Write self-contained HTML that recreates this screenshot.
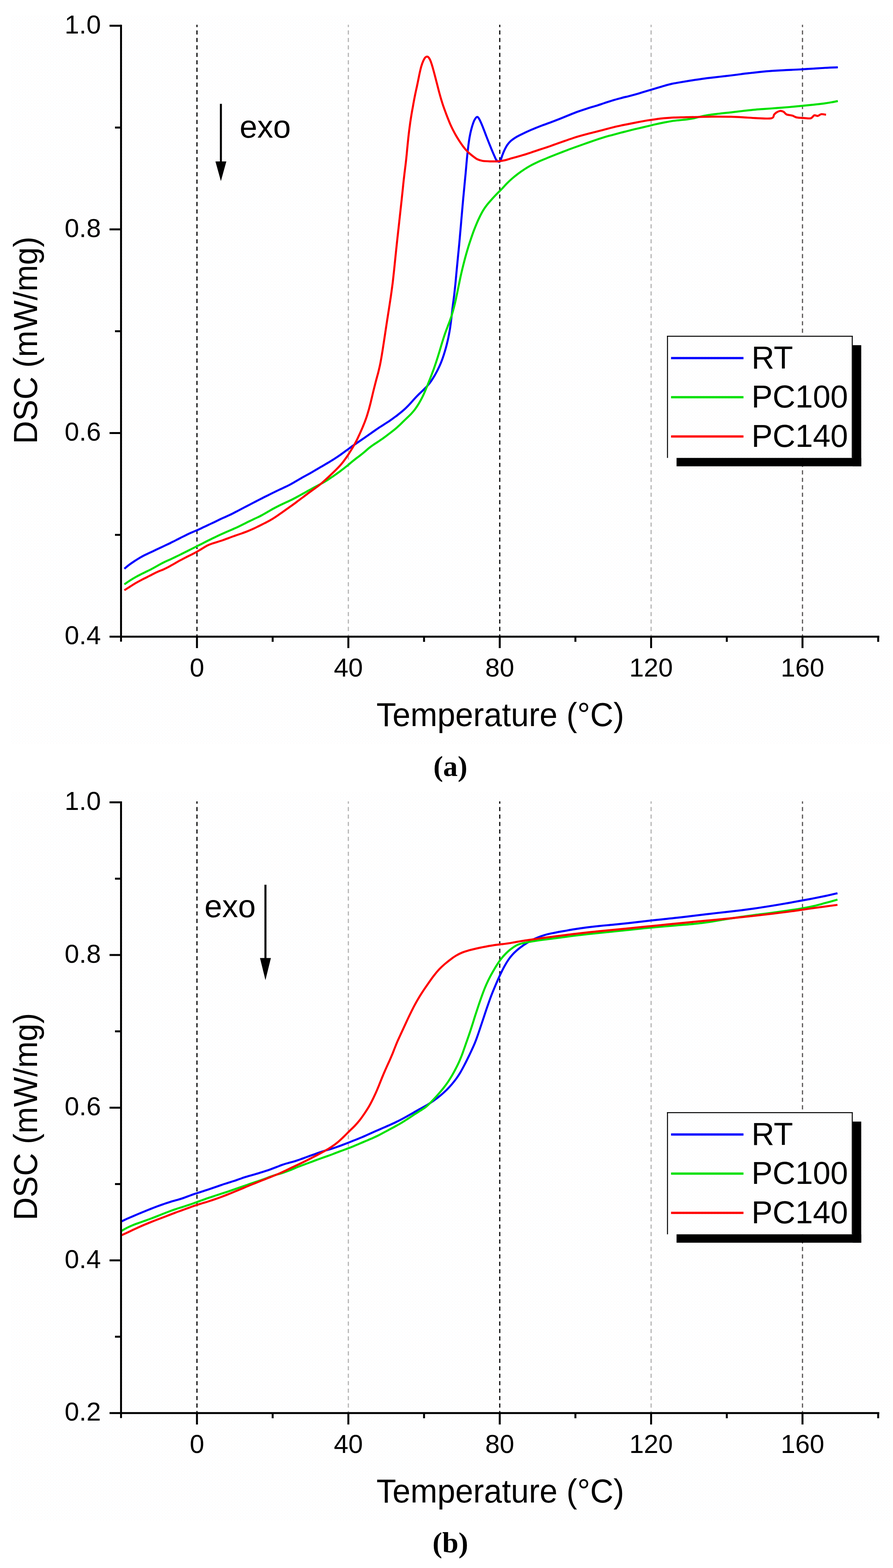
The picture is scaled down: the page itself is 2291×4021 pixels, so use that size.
<!DOCTYPE html><html><head><meta charset="utf-8"><style>html,body{margin:0;padding:0;background:#fff}svg{display:block}.tk{font-family:"Liberation Sans",Arial,sans-serif;font-size:67px;fill:#000}.tt{font-family:"Liberation Sans",Arial,sans-serif;font-size:85px;fill:#000}.lg{font-family:"Liberation Sans",Arial,sans-serif;font-size:81px;fill:#000}.cp{font-family:"Liberation Serif","Times New Roman",serif;font-size:75px;font-weight:bold;fill:#000}</style></head><body>
<svg width="2291" height="4021" viewBox="0 0 2291 4021">
<defs><pattern id="dots" width="8" height="8" patternUnits="userSpaceOnUse"><rect width="8" height="8" fill="#fff"/><rect x="1" y="1" width="1" height="1" fill="#f0e4e4"/><rect x="5" y="5" width="1" height="1" fill="#e2eef7"/></pattern></defs>
<rect width="2291" height="4021" fill="#fff"/>
<rect x="27" y="40" width="2258" height="1869" fill="url(#dots)"/>
<line x1="505.3" y1="63.5" x2="505.3" y2="1632.7" stroke="#000" stroke-width="3" stroke-dasharray="10.6 8.52" stroke-dashoffset="4.6"/>
<line x1="893.7" y1="63.5" x2="893.7" y2="1632.7" stroke="#b4b4b4" stroke-width="3" stroke-dasharray="10.6 8.52" stroke-dashoffset="4.6"/>
<line x1="1282.1" y1="63.5" x2="1282.1" y2="1632.7" stroke="#000" stroke-width="3" stroke-dasharray="10.6 8.52" stroke-dashoffset="4.6"/>
<line x1="1670.4" y1="63.5" x2="1670.4" y2="1632.7" stroke="#b4b4b4" stroke-width="3" stroke-dasharray="10.6 8.52" stroke-dashoffset="4.6"/>
<line x1="2058.8" y1="63.5" x2="2058.8" y2="1632.7" stroke="#575353" stroke-width="3" stroke-dasharray="10.6 8.52" stroke-dashoffset="4.6"/>
<path d="M319.1 1458.4C321.4 1456.5 328.3 1450.8 333.1 1447.2C337.9 1443.7 342.8 1440.5 347.8 1437.2C352.8 1434 357.9 1430.8 362.9 1428C367.9 1425.2 373 1422.8 378 1420.3C383 1417.8 388.1 1415.7 393.1 1413.3C398.1 1410.9 403.2 1408.5 408.2 1406.1C413.2 1403.7 418.3 1401.4 423.3 1399C428.3 1396.6 433.4 1394.3 438.4 1391.8C443.4 1389.3 448.5 1386.8 453.5 1384.2C458.6 1381.7 463.6 1379 468.7 1376.5C473.7 1374 478.8 1371.4 483.8 1369.1C488.8 1366.8 493.9 1364.7 498.5 1362.7C503.1 1360.7 507.3 1359.1 511.4 1357.2C515.4 1355.4 518.6 1353.6 522.6 1351.7C526.7 1349.8 530.9 1347.9 535.5 1345.7C540.1 1343.5 545.2 1341.2 550.2 1338.8C555.2 1336.4 560.3 1333.8 565.3 1331.4C570.3 1329 575.4 1326.9 580.4 1324.6C585.5 1322.3 590.5 1320.1 595.6 1317.6C600.6 1315.1 605.7 1312.3 610.7 1309.7C615.7 1307.1 620.8 1304.4 625.8 1301.8C630.8 1299.2 635.9 1296.6 640.9 1294C645.9 1291.4 651 1288.7 656 1286.1C661 1283.5 666.1 1280.9 671.1 1278.4C676.1 1275.8 681.2 1273.3 686.2 1270.8C691.2 1268.3 696.3 1265.7 701.3 1263.2C706.3 1260.8 711.3 1258.4 716.3 1256C721.2 1253.7 726.1 1251.6 731 1249.2C736 1246.8 741 1244.4 746 1241.7C751.1 1238.9 756.4 1235.7 761.6 1232.7C766.8 1229.7 772.1 1226.6 777.4 1223.6C782.7 1220.6 787.9 1217.9 793.2 1214.9C798.5 1211.9 803.7 1208.9 809 1205.8C814.3 1202.8 819.5 1199.7 824.8 1196.6C830.1 1193.5 835.3 1190.5 840.6 1187.3C845.9 1184.1 851.1 1181 856.4 1177.6C861.7 1174.2 866.9 1170.8 872.2 1167.1C877.5 1163.5 882.7 1159.5 888 1155.7C893.3 1151.9 898.6 1147.9 903.8 1144.2C909 1140.5 914.3 1136.9 919.3 1133.5C924.4 1130 929.3 1126.6 934.1 1123.3C938.9 1120 943.5 1116.8 948.1 1113.6C952.7 1110.4 957.2 1107.1 961.8 1104C966.4 1100.8 971.1 1097.6 975.5 1094.7C980 1091.8 984 1089.4 988.5 1086.4C993 1083.5 997.4 1080.7 1002.6 1077.1C1007.7 1073.5 1014.1 1068.8 1019.4 1064.8C1024.6 1060.7 1029.9 1056.5 1034.2 1052.8C1038.5 1049.1 1041.6 1046 1045 1042.7C1048.4 1039.3 1051.2 1036.2 1054.4 1032.7C1057.6 1029.2 1060.7 1025.4 1064.2 1021.7C1067.7 1017.9 1071.5 1014 1075.2 1010.3C1078.9 1006.7 1082.8 1003.3 1086.3 999.8C1089.9 996.3 1093.3 993 1096.6 989.2C1099.9 985.4 1103.3 981.2 1106.3 976.9C1109.3 972.6 1112.2 967.9 1114.8 963.4C1117.5 958.9 1119.8 954.5 1122.2 949.9C1124.5 945.3 1126.8 940.7 1128.9 935.8C1131.1 930.9 1133.1 925.7 1135.1 920.2C1137 914.8 1138.9 909 1140.6 903.2C1142.4 897.4 1144 891.9 1145.6 885.6C1147.2 879.3 1148.8 873 1150.3 865.6C1151.8 858.3 1153.4 849.9 1154.7 841.3C1156 832.7 1157.1 823.3 1158.2 814.1C1159.3 804.9 1160.3 795.4 1161.4 786C1162.5 776.7 1163.9 767.5 1165.1 757.9C1166.2 748.3 1167.3 738.6 1168.3 728.6C1169.3 718.7 1170.1 708.4 1171.1 698.3C1172 688.2 1173 678.1 1174 668C1175 657.9 1176 647.8 1177 637.7C1178 627.6 1178.9 617.7 1179.8 607.3C1180.8 597 1181.6 586.3 1182.6 575.5C1183.5 564.6 1184.5 553 1185.5 542.1C1186.4 531.3 1187.3 521.1 1188.3 510.3C1189.3 499.5 1190.3 488.8 1191.4 477.6C1192.4 466.4 1193.7 453.7 1194.7 443C1195.6 432.3 1196.5 422.3 1197.3 413.4C1198.1 404.6 1198.8 397.3 1199.7 389.9C1200.5 382.5 1201.3 375.5 1202.1 369.3C1202.9 363.1 1203.8 357.6 1204.6 352.8C1205.4 348 1206.2 344.3 1207 340.4C1207.9 336.5 1208.7 333.1 1209.7 329.5C1210.7 325.8 1211.7 322.2 1213 318.5C1214.3 314.8 1215.6 310.6 1217.4 307.5C1219.2 304.4 1222 300.2 1224 299.8C1226 299.4 1227.5 302.1 1229.5 305.3C1231.5 308.5 1233.8 314.1 1235.8 318.8C1237.8 323.4 1239.6 328.2 1241.5 333C1243.4 337.8 1245.2 342.8 1247 347.6C1248.8 352.3 1250.7 356.9 1252.5 361.6C1254.3 366.2 1256.2 370.8 1258 375.3C1259.8 379.9 1261.7 384.6 1263.5 388.8C1265.3 393.1 1267.1 397.2 1268.8 400.8C1270.4 404.4 1271.5 408.1 1273.5 410.5C1275.5 412.9 1278.7 415 1280.5 415C1282.3 415 1283.1 413.4 1284.5 410.5C1285.9 407.6 1287.2 402.1 1288.9 397.7C1290.6 393.2 1292.7 388 1294.8 383.6C1297 379.3 1299.2 375 1301.8 371.3C1304.4 367.6 1307.1 364.5 1310.5 361.4C1313.9 358.3 1317.6 355.7 1322.5 352.7C1327.3 349.8 1333.1 346.9 1339.8 343.7C1346.4 340.4 1354.5 336.6 1362.4 333.2C1370.3 329.8 1378.8 326.3 1387.1 323.1C1395.4 319.9 1403.8 317.1 1412.2 314C1420.6 310.8 1429.3 307.5 1437.5 304.3C1445.7 301 1453.8 297.6 1461.5 294.5C1469.2 291.4 1476.6 288.5 1484 285.8C1491.4 283.1 1498.6 280.7 1505.9 278.4C1513.2 276 1520.6 274 1527.9 271.8C1535.2 269.5 1542.6 267 1549.9 264.6C1557.2 262.2 1564.6 259.6 1571.9 257.4C1579.2 255.2 1586.5 253.3 1593.8 251.4C1601.1 249.5 1608.5 247.8 1615.8 245.9C1623.1 244 1630.5 242 1637.8 239.9C1645.1 237.7 1652.5 235.5 1659.8 233.3C1667.1 231.1 1674.5 228.9 1681.8 226.7C1689.1 224.5 1696.7 222.1 1703.7 220.2C1710.7 218.2 1717.1 216.4 1723.8 214.9C1730.5 213.5 1736.2 212.5 1744 211.2C1751.7 209.9 1760.8 208.4 1770.2 206.9C1779.6 205.4 1790.3 203.7 1800.4 202.3C1810.5 200.9 1820.6 199.7 1830.7 198.6C1840.8 197.4 1850.8 196.3 1860.9 195.2C1871 194 1881 192.8 1891.1 191.5C1901.2 190.2 1911.3 188.8 1921.3 187.7C1931.3 186.5 1941 185.3 1951.1 184.3C1961.3 183.3 1971.1 182.5 1982.1 181.7C1993.1 181 2005.3 180.3 2017.2 179.7C2029.2 179.1 2042.1 178.6 2053.5 178C2065 177.4 2075.4 176.7 2086 176C2096.6 175.4 2106.4 174.5 2117 174C2127.6 173.4 2144.1 172.9 2149.5 172.7" fill="none" stroke="#0000ff" stroke-width="5.2" stroke-linejoin="round" stroke-linecap="butt"/>
<path d="M319.1 1498.5C321.4 1496.9 328.3 1492 333.1 1488.9C337.9 1485.8 342.8 1482.8 347.8 1480C352.8 1477.2 357.9 1474.6 362.9 1472C367.9 1469.5 373 1467.2 378 1464.7C383 1462.2 388.1 1459.7 393.1 1456.9C398.1 1454.2 403.2 1451.2 408.2 1448.5C413.2 1445.7 418.3 1443.1 423.3 1440.7C428.3 1438.3 433.4 1436.2 438.4 1433.9C443.4 1431.6 448.5 1429.2 453.5 1426.7C458.6 1424.3 463.6 1421.7 468.7 1419.2C473.7 1416.7 478.8 1414.1 483.8 1411.6C488.8 1409.1 493.6 1406.7 498.9 1404C504.2 1401.4 509.7 1398.6 515.5 1395.7C521.3 1392.7 527.8 1389.3 533.6 1386.4C539.4 1383.6 544.9 1380.8 550.2 1378.3C555.5 1375.7 560.3 1373.4 565.3 1371.1C570.3 1368.8 575.4 1366.5 580.4 1364.3C585.5 1362.1 590.5 1360 595.6 1357.8C600.6 1355.6 605.7 1353.4 610.7 1351.1C615.7 1348.7 620.8 1346.2 625.8 1343.7C630.8 1341.2 635.9 1338.6 640.9 1336.2C645.9 1333.7 651 1331.4 656 1329C661 1326.6 666.1 1324.3 671.1 1321.6C676.1 1319 681.2 1316 686.2 1313.1C691.2 1310.2 696.3 1307.1 701.3 1304.4C706.3 1301.7 711.3 1299.1 716.3 1296.6C721.2 1294.2 726.1 1292 731 1289.7C736 1287.4 741 1285.2 746 1282.7C751.1 1280.2 756.4 1277.4 761.6 1274.6C766.8 1271.8 772.1 1268.8 777.4 1265.9C782.7 1263 787.9 1259.9 793.2 1257C798.5 1254.1 803.7 1251.1 809 1248.3C814.3 1245.5 819.5 1242.9 824.8 1240C830.1 1237.1 835.3 1234 840.6 1230.7C845.9 1227.4 851.1 1223.7 856.4 1220.1C861.7 1216.4 867 1212.7 872.2 1208.9C877.4 1205 882.8 1200.8 887.8 1196.8C892.8 1192.9 897.6 1188.6 902 1185C906.4 1181.4 910.2 1178.4 914 1175.4C917.8 1172.4 921.3 1170 925 1167.1C928.6 1164.3 932.2 1161.3 935.9 1158.2C939.7 1155.1 943.3 1151.6 947.4 1148.4C951.5 1145.2 956 1142.1 960.4 1139C964.9 1135.9 969.7 1133 974.2 1129.9C978.8 1126.8 983.2 1123.7 987.8 1120.3C992.4 1116.9 997.2 1113.3 1001.7 1109.8C1006.3 1106.3 1011 1102.6 1015 1099.2C1019 1095.8 1022.4 1092.7 1025.8 1089.6C1029.2 1086.4 1032.2 1083.3 1035.4 1080.2C1038.6 1077.1 1041.8 1073.9 1045 1070.8C1048.2 1067.7 1051.2 1065.1 1054.4 1061.7C1057.6 1058.3 1060.8 1054.8 1064.2 1050.3C1067.6 1045.8 1071.3 1040.2 1074.6 1034.7C1077.9 1029.2 1081.2 1023.1 1084 1017.4C1086.8 1011.7 1089.2 1006.1 1091.6 1000.4C1094.1 994.7 1096.3 989 1098.7 983.1C1101 977.2 1103.4 971.3 1105.7 965.2C1108.1 959 1110.4 952.9 1112.8 946.4C1115.1 939.8 1117.5 933 1119.8 925.8C1122.2 918.6 1124.5 910.9 1126.9 903.2C1129.2 895.6 1131.6 887.4 1133.9 879.8C1136.2 872.2 1138.6 864.6 1140.9 857.8C1143.3 850.9 1145.6 844.9 1148 838.7C1150.3 832.4 1152.7 826.7 1154.9 820.4C1157.1 814.1 1159.2 807.8 1161.2 800.9C1163.2 793.9 1165.1 786.6 1167 778.7C1168.8 770.9 1170.7 762.1 1172.4 753.7C1174.2 745.4 1175.9 736.9 1177.6 728.6C1179.3 720.4 1180.9 712.5 1182.7 704.4C1184.5 696.3 1186.5 688.1 1188.5 680.1C1190.5 672.2 1192.5 664.3 1194.6 656.8C1196.6 649.2 1198.7 642.2 1200.9 634.9C1203.1 627.7 1205.5 620.5 1207.9 613.4C1210.3 606.3 1212.7 599.2 1215.2 592.5C1217.7 585.8 1220.2 579.6 1222.8 573.4C1225.4 567.2 1228.2 561.2 1231 555.5C1233.8 549.8 1236.7 544.2 1239.8 539.1C1242.9 534 1246.2 529.5 1249.8 524.9C1253.4 520.3 1257.5 515.8 1261.3 511.5C1265.1 507.2 1269.2 502.9 1272.8 499.1C1276.4 495.3 1280 491.9 1283.1 488.8C1286.2 485.7 1288.5 483.3 1291.3 480.4C1294.1 477.4 1296.1 474.7 1299.7 471.1C1303.3 467.5 1308 462.9 1313 458.6C1317.9 454.3 1323.9 449.5 1329.4 445.4C1334.9 441.3 1340.4 437.5 1345.9 433.9C1351.4 430.3 1356.9 427 1362.4 424C1367.9 421 1373.4 418.4 1378.9 415.8C1384.4 413.2 1389.9 410.9 1395.4 408.6C1400.9 406.3 1406.4 404 1411.9 401.8C1417.4 399.6 1422.8 397.5 1428.3 395.4C1433.8 393.3 1439 391.2 1444.8 389C1450.6 386.8 1456.3 384.5 1462.8 382.1C1469.3 379.7 1476.6 377.1 1483.8 374.6C1491 372 1498.6 369.4 1505.9 366.8C1513.3 364.2 1520.6 361.6 1527.9 359.1C1535.2 356.6 1542.6 354.2 1549.9 352C1557.2 349.8 1564.6 347.9 1571.9 345.9C1579.2 343.9 1586.5 342 1593.8 340.1C1601.1 338.2 1608.5 336.2 1615.8 334.4C1623.1 332.6 1630.5 330.9 1637.8 329.2C1645.1 327.5 1652.5 325.7 1659.8 324C1667.1 322.3 1674.5 320.4 1681.8 318.8C1689.1 317.1 1696.7 315.5 1703.7 314.1C1710.7 312.7 1717.4 311.5 1723.8 310.5C1730.2 309.5 1735.8 309 1742.1 308.3C1748.4 307.6 1755.2 307.2 1761.5 306.4C1767.9 305.6 1774.3 304.6 1780.1 303.4C1785.9 302.2 1790.2 300.6 1796.3 299.3C1802.4 297.9 1808.6 296.4 1816.7 295.1C1824.8 293.8 1835.1 292.7 1845 291.5C1854.9 290.3 1865.8 289.3 1876 288.1C1886.2 286.9 1896.8 285.6 1906.2 284.5C1915.6 283.4 1923.6 282.4 1932.2 281.6C1940.9 280.8 1948 280.4 1957.9 279.6C1967.8 278.9 1980.3 278.1 1991.6 277.2C2002.8 276.4 2014.9 275.4 2025.6 274.5C2036.3 273.5 2045.7 272.6 2055.8 271.6C2065.9 270.6 2076.6 269.6 2086 268.6C2095.4 267.6 2104.7 266.6 2112.4 265.6C2120.1 264.6 2125.9 263.6 2132.1 262.5C2138.3 261.4 2146.6 259.7 2149.5 259.1" fill="none" stroke="#00e000" stroke-width="5.2" stroke-linejoin="round" stroke-linecap="butt"/>
<path d="M319.1 1513.6C321.4 1512.1 328.3 1507.7 333.1 1504.7C337.9 1501.7 342.8 1498.4 347.8 1495.5C352.8 1492.5 357.9 1489.8 362.9 1487.2C367.9 1484.5 373 1482.2 378 1479.6C383 1477 388.3 1474.2 393.1 1471.8C397.9 1469.4 402.7 1467.1 407.1 1465.2C411.4 1463.3 415.1 1462.2 419.2 1460.3C423.3 1458.5 427.2 1456.7 431.6 1454.3C436.1 1451.9 441.1 1448.9 446 1446.2C450.9 1443.4 456.1 1440.4 461.1 1437.6C466.1 1434.9 471.2 1432.3 476.2 1429.7C481.2 1427.1 486.3 1424.8 491.3 1422.2C496.3 1419.6 501.6 1416.9 506.4 1414.2C511.2 1411.5 516.1 1408.4 520.4 1405.8C524.7 1403.3 528.2 1400.8 532.1 1398.9C536 1396.9 539.5 1395.6 543.8 1394.1C548.1 1392.6 553 1391.3 557.8 1389.8C562.6 1388.2 567.9 1386.6 572.9 1384.9C577.9 1383.1 583 1381 588 1379.2C593 1377.3 598.1 1375.5 603.1 1373.7C608.1 1371.9 613.2 1370.4 618.2 1368.6C623.2 1366.8 628.3 1365 633.3 1363C638.3 1361 643.4 1358.8 648.4 1356.6C653.4 1354.3 658.5 1351.8 663.5 1349.4C668.6 1346.9 673.6 1344.4 678.7 1341.8C683.7 1339.2 688.8 1336.7 693.8 1333.8C698.8 1331 703.6 1328 708.9 1324.4C714.2 1320.9 719.8 1316.8 725.7 1312.6C731.6 1308.5 738.3 1303.7 744.3 1299.4C750.3 1295.1 756.1 1290.9 761.6 1286.8C767.1 1282.8 772.1 1278.9 777.4 1275C782.7 1271 787.9 1267 793.2 1263.1C798.5 1259.2 803.7 1255.6 809 1251.7C814.3 1247.7 819.5 1243.8 824.8 1239.4C830.1 1235 835.3 1230.1 840.6 1225.2C845.9 1220.3 851.5 1215 856.5 1210.2C861.5 1205.3 866.6 1200.3 870.7 1195.8C874.8 1191.4 877.9 1187.5 881 1183.6C884 1179.7 886.4 1176.3 889 1172.6C891.5 1168.9 893.9 1165.3 896.2 1161.6C898.6 1158 900.8 1154.3 903 1150.7C905.2 1147 907.4 1143.4 909.4 1139.7C911.5 1136 913.5 1132.4 915.3 1128.7C917.2 1125 918.8 1121.4 920.5 1117.7C922.2 1114 923.9 1110.4 925.5 1106.7C927.1 1103 928.7 1099.4 930.3 1095.7C931.8 1092 933.4 1088.4 934.8 1084.7C936.2 1081 937.6 1077.5 938.9 1073.7C940.3 1069.9 941.5 1066 942.8 1061.8C944.1 1057.5 945.5 1052.7 946.8 1048.2C948 1043.6 949.2 1038.9 950.4 1034.5C951.5 1030.1 952.4 1025.9 953.5 1021.5C954.6 1017.1 955.5 1012.9 956.7 1008C957.9 1003 959.2 997.7 960.7 991.9C962.2 986.1 963.8 979.4 965.5 973.2C967.1 967 968.8 961.5 970.5 954.8C972.2 948 973.8 941.5 975.6 932.6C977.3 923.8 979.2 912.7 981 901.7C982.8 890.7 984.6 878.2 986.4 866.5C988.2 854.8 989.9 843 991.7 831.3C993.5 819.6 995.4 807.8 997.2 796.1C999 784.3 1000.9 772.6 1002.6 760.8C1004.3 749.1 1005.9 737.3 1007.4 725.6C1008.8 713.9 1010 702.2 1011.3 690.4C1012.5 678.6 1013.7 666.4 1014.9 655C1016.1 643.5 1017.4 632 1018.4 621.8C1019.5 611.5 1020.5 602.5 1021.5 593.6C1022.5 584.7 1023.4 576.7 1024.3 568.2C1025.2 559.7 1026.2 551.3 1027.1 542.8C1028 534.3 1029 525.8 1029.9 517.3C1030.8 508.8 1031.7 500.4 1032.6 491.9C1033.5 483.4 1034.3 474.7 1035.2 466.5C1036.1 458.2 1037.1 449.9 1038 442.3C1038.9 434.7 1039.8 428.2 1040.7 420.6C1041.6 413 1042.4 405.2 1043.3 396.4C1044.2 387.5 1045.1 376.9 1046.1 367.5C1047.1 358.1 1048 348.9 1049.1 340.2C1050.1 331.5 1051.2 323.4 1052.3 315.4C1053.4 307.4 1054.7 299.5 1055.9 292.2C1057.1 285 1058.3 278.5 1059.5 272.2C1060.6 265.9 1061.6 260.2 1062.7 254.6C1063.8 248.9 1064.8 243.9 1065.9 238.5C1067 233.1 1068.3 227.8 1069.5 222.1C1070.7 216.4 1072 210.1 1073.2 204.2C1074.4 198.2 1075.6 192 1076.9 186.2C1078.2 180.5 1079.4 174.8 1080.9 169.9C1082.4 164.9 1084 160.3 1085.7 156.6C1087.4 152.8 1089.2 149.1 1091.1 147.3C1093 145.5 1095.3 144.7 1097.3 145.5C1099.2 146.3 1101.1 149.1 1102.8 152.3C1104.5 155.5 1106 160.1 1107.5 164.6C1109 169.1 1110.3 174.1 1111.8 179.4C1113.3 184.8 1114.8 190.6 1116.4 196.7C1118 202.8 1119.7 209.5 1121.4 215.9C1123 222.3 1124.7 228.9 1126.3 235.1C1128 241.3 1129.6 247.2 1131.3 253C1133 258.8 1134.7 264.2 1136.5 269.7C1138.4 275.2 1140.4 280.6 1142.4 286.1C1144.4 291.6 1146.5 297.1 1148.6 302.5C1150.7 307.8 1152.8 313.1 1155 318.2C1157.3 323.4 1159.7 328.5 1162.2 333.4C1164.7 338.3 1167.2 343 1169.9 347.6C1172.6 352.2 1175.4 356.8 1178.2 361.2C1181.1 365.6 1184.1 370.1 1186.9 373.9C1189.7 377.7 1192.3 381 1195 384.1C1197.7 387.1 1200.1 389.5 1203.1 392.2C1206.1 394.9 1209.5 397.7 1213 400.4C1216.5 403 1219.9 406 1224 408.1C1228.1 410.1 1232.2 411.5 1237.7 412.5C1243.2 413.4 1250.3 413.6 1256.9 413.8C1263.5 414 1271.2 414 1277.5 413.6C1283.8 413.1 1289.4 412.2 1294.6 411.1C1299.8 410 1303.8 408.4 1308.9 406.9C1314 405.5 1319.2 404.1 1325.1 402.4C1331 400.8 1338.1 398.9 1344.3 397.1C1350.5 395.2 1356.6 393 1362.4 391.1C1368.2 389.1 1373.4 387.3 1378.9 385.5C1384.4 383.7 1389.9 381.9 1395.4 380.1C1400.9 378.3 1406.6 376.4 1411.9 374.6C1417.2 372.7 1422 370.9 1427.1 369.1C1432.2 367.3 1436.8 365.7 1442.6 363.6C1448.4 361.6 1455.1 359.2 1462 356.9C1468.9 354.6 1476.7 351.9 1484 349.8C1491.3 347.6 1498.6 345.6 1505.9 343.7C1513.2 341.8 1520.6 340.1 1527.9 338.2C1535.2 336.3 1542.6 334.4 1549.9 332.4C1557.2 330.5 1564.6 328.5 1571.9 326.7C1579.2 324.9 1586.5 323.4 1593.8 321.8C1601.1 320.2 1608.5 318.9 1615.8 317.4C1623.1 315.9 1630.5 314.4 1637.8 313C1645.1 311.6 1652.5 310.2 1659.8 309C1667.1 307.8 1674.5 306.7 1681.8 305.8C1689.1 304.8 1695.9 303.9 1703.7 303.2C1711.6 302.5 1719.5 301.8 1728.8 301.4C1738.1 301 1749.5 300.9 1759.7 300.6C1769.8 300.4 1778.3 300.3 1789.6 300C1800.8 299.8 1813 299.3 1827.2 299.2C1841.5 299.1 1861.4 299.1 1875.2 299.4C1889 299.7 1899.3 300.5 1910 301.1C1920.7 301.7 1928 302.4 1939.4 302.8C1950.9 303.2 1970.9 305 1978.7 303.4C1986.5 301.8 1984 296 1986.3 293.5C1988.6 291 1989.8 289.8 1992.3 288.3C1994.8 286.8 1998.4 284.8 2001.4 284.5C2004.4 284.2 2007.6 285.2 2010.4 286.7C2013.2 288.2 2014.2 291.9 2018 293.5C2021.8 295.1 2028.8 295.3 2033.1 296.6C2037.4 297.9 2038.9 300.1 2043.7 301.1C2048.5 302.1 2055.8 302.2 2061.8 302.6C2067.8 303 2075.4 304.5 2079.9 303.4C2084.4 302.3 2086 296.8 2089 295.8C2092 294.8 2095.1 297.8 2098.1 297.3C2101.1 296.8 2103.6 293.3 2107.1 292.8C2110.6 292.3 2117.2 294.1 2119.2 294.3" fill="none" stroke="#ff0000" stroke-width="5.2" stroke-linejoin="round" stroke-linecap="butt"/>
<rect x="308" y="63.5" width="5" height="1582" fill="#000"/>
<rect x="308" y="1630.2" width="1947.8" height="5" fill="#000"/>
<rect x="281" y="63.5" width="30" height="5" fill="#000"/>
<rect x="281" y="585.7" width="30" height="5" fill="#000"/>
<rect x="281" y="1108" width="30" height="5" fill="#000"/>
<rect x="281" y="1630.2" width="30" height="5" fill="#000"/>
<rect x="295" y="324.6" width="16" height="5" fill="#000"/>
<rect x="295" y="846.9" width="16" height="5" fill="#000"/>
<rect x="295" y="1369.1" width="16" height="5" fill="#000"/>
<rect x="502.8" y="1632.7" width="5" height="29.3" fill="#000"/>
<rect x="891.2" y="1632.7" width="5" height="29.3" fill="#000"/>
<rect x="1279.6" y="1632.7" width="5" height="29.3" fill="#000"/>
<rect x="1667.9" y="1632.7" width="5" height="29.3" fill="#000"/>
<rect x="2056.3" y="1632.7" width="5" height="29.3" fill="#000"/>
<rect x="697" y="1632.7" width="5" height="13.3" fill="#000"/>
<rect x="1085.4" y="1632.7" width="5" height="13.3" fill="#000"/>
<rect x="1473.7" y="1632.7" width="5" height="13.3" fill="#000"/>
<rect x="1862.1" y="1632.7" width="5" height="13.3" fill="#000"/>
<rect x="2250.5" y="1632.7" width="5" height="13.3" fill="#000"/>
<text x="259" y="85.6" text-anchor="end" class="tk">1.0</text>
<text x="259" y="607.8" text-anchor="end" class="tk">0.8</text>
<text x="259" y="1130.1" text-anchor="end" class="tk">0.6</text>
<text x="259" y="1652.3" text-anchor="end" class="tk">0.4</text>
<text x="505.3" y="1735" text-anchor="middle" class="tk">0</text>
<text x="893.7" y="1735" text-anchor="middle" class="tk">40</text>
<text x="1282.1" y="1735" text-anchor="middle" class="tk">80</text>
<text x="1670.4" y="1735" text-anchor="middle" class="tk">120</text>
<text x="2058.8" y="1735" text-anchor="middle" class="tk">160</text>
<text transform="translate(1283.5 1862) scale(0.974 1)" text-anchor="middle" class="tt">Temperature (°C)</text>
<text transform="translate(95.3 872.6) rotate(-90) scale(0.963 1)" text-anchor="middle" class="tt">DSC (mW/mg)</text>
<rect x="564.1" y="266.3" width="5.2" height="149.7" fill="#000"/>
<path d="M552.7 414L580.7 414L566.7 464.6Z" fill="#000"/>
<text x="614.8" y="352.7" class="tt" style="font-size:81.5px">exo</text>
<rect x="1712" y="862" width="474" height="312.3" fill="url(#dots)"/>
<rect x="1712" y="862" width="474" height="312.3" fill="#fff" fill-opacity="0"/>
<rect x="1711.2" y="861" width="476.4" height="2.5" fill="#000"/>
<rect x="1711.2" y="861" width="2.5" height="313.3" fill="#000"/>
<rect x="2185.2" y="861" width="2.5" height="313.3" fill="#000"/>
<rect x="2187.6" y="885.2" width="21.9" height="310.6" fill="#000"/>
<rect x="1735.7" y="1174.3" width="473.8" height="21.5" fill="#000"/>
<rect x="1721.6" y="915.4" width="185.8" height="5.8" fill="#0000ff"/>
<text x="1928" y="945" class="lg">RT</text>
<rect x="1721.6" y="1015.7" width="185.8" height="5.8" fill="#00e000"/>
<text x="1928" y="1045.2" class="lg">PC100</text>
<rect x="1721.6" y="1116.4" width="185.8" height="5.8" fill="#ff0000"/>
<text x="1928" y="1146.3" class="lg">PC140</text>
<rect x="27" y="2031" width="2258" height="1869" fill="url(#dots)"/>
<line x1="505.3" y1="2055" x2="505.3" y2="3623.7" stroke="#000" stroke-width="3" stroke-dasharray="10.6 8.52" stroke-dashoffset="4.6"/>
<line x1="893.7" y1="2055" x2="893.7" y2="3623.7" stroke="#b4b4b4" stroke-width="3" stroke-dasharray="10.6 8.52" stroke-dashoffset="4.6"/>
<line x1="1282.1" y1="2055" x2="1282.1" y2="3623.7" stroke="#000" stroke-width="3" stroke-dasharray="10.6 8.52" stroke-dashoffset="4.6"/>
<line x1="1670.4" y1="2055" x2="1670.4" y2="3623.7" stroke="#b4b4b4" stroke-width="3" stroke-dasharray="10.6 8.52" stroke-dashoffset="4.6"/>
<line x1="2058.8" y1="2055" x2="2058.8" y2="3623.7" stroke="#575353" stroke-width="3" stroke-dasharray="10.6 8.52" stroke-dashoffset="4.6"/>
<path d="M311.1 3132.4C313.3 3131.4 319.8 3128.2 324.5 3126.1C329.2 3124 334.4 3121.8 339.5 3119.6C344.6 3117.4 350 3115.1 355.3 3112.9C360.6 3110.7 365.8 3108.5 371.1 3106.4C376.4 3104.2 381.6 3102.1 386.9 3100C392.2 3097.9 397.4 3095.9 402.7 3093.9C408 3091.9 413.2 3090 418.5 3088.2C423.8 3086.4 429 3084.5 434.3 3082.9C439.6 3081.2 444.8 3079.8 450.1 3078.3C455.4 3076.8 460.6 3075.5 465.9 3073.8C471.2 3072.1 476.4 3069.9 481.7 3068C487 3066.1 492 3064.2 497.5 3062.3C503 3060.4 508.9 3058.7 515 3056.7C521.1 3054.8 528 3052.5 534.1 3050.5C540.2 3048.4 546.1 3046.4 551.6 3044.5C557.1 3042.6 562.1 3040.8 567.4 3039C572.7 3037.2 577.9 3035.6 583.2 3033.9C588.5 3032.2 593.7 3030.7 599 3028.9C604.3 3027.2 609.5 3025.2 614.8 3023.4C620.1 3021.6 625.3 3019.7 630.6 3018.1C635.9 3016.4 641.1 3015 646.4 3013.5C651.7 3012 656.9 3010.6 662.2 3009C667.5 3007.4 672.7 3005.7 678 3004C683.3 3002.3 688.5 3000.6 693.8 2998.7C699.1 2996.8 704.4 2994.8 709.6 2992.8C714.8 2990.8 720 2988.6 725.1 2986.8C730.2 2985.1 735.2 2983.7 740.3 2982.2C745.4 2980.8 750.6 2979.6 755.8 2978C761 2976.4 766.3 2974.5 771.6 2972.6C776.9 2970.8 782.1 2968.8 787.4 2966.9C792.7 2965 797.9 2963.1 803.2 2961.2C808.5 2959.3 813.7 2957.3 819 2955.5C824.3 2953.7 829.5 2952.1 834.8 2950.5C840.1 2948.9 845.3 2947.6 850.6 2946C855.9 2944.3 861.1 2942.5 866.4 2940.6C871.7 2938.7 876.9 2936.7 882.2 2934.7C887.5 2932.7 892.7 2930.7 898 2928.6C903.3 2926.5 908.5 2924.4 913.8 2922.3C919.1 2920.2 924.3 2918 929.6 2915.8C934.9 2913.6 939.9 2911.3 945.4 2908.9C950.9 2906.4 956.5 2903.9 962.6 2901.2C968.6 2898.6 975.3 2895.6 981.6 2892.9C987.8 2890.2 994.1 2887.6 1000.1 2884.9C1006.1 2882.2 1011.8 2879.6 1017.6 2876.7C1023.4 2873.9 1029.3 2870.8 1035.1 2867.7C1040.9 2864.6 1047 2861.2 1052.6 2858C1058.2 2854.9 1063.8 2851.4 1068.6 2848.7C1073.5 2845.9 1077.3 2843.9 1081.8 2841.4C1086.3 2838.9 1090.4 2836.9 1095.6 2833.8C1100.7 2830.6 1107 2826.5 1112.8 2822.4C1118.6 2818.3 1124.8 2813.6 1130.3 2809C1135.8 2804.4 1140.9 2799.8 1145.8 2795C1150.6 2790.2 1155.2 2785.1 1159.5 2780.1C1163.7 2775.1 1167.6 2770.1 1171.2 2765.2C1174.7 2760.3 1177.8 2755.6 1180.8 2750.6C1183.8 2745.6 1186.5 2740.5 1189.2 2735.4C1191.9 2730.3 1194.6 2725 1197.1 2720C1199.6 2714.9 1202 2710.1 1204.4 2705.1C1206.8 2700.1 1209.1 2695.2 1211.4 2690.2C1213.7 2685.2 1215.8 2680.6 1218.1 2675C1220.4 2669.4 1222.6 2663.6 1225 2656.6C1227.5 2649.6 1230.3 2641.2 1233 2633C1235.8 2624.7 1238.7 2615.8 1241.7 2607C1244.6 2598.2 1247.6 2589 1250.7 2580.2C1253.8 2571.4 1256.9 2562.4 1260 2554.2C1263.1 2546 1266.3 2538.2 1269.4 2530.9C1272.4 2523.5 1275.5 2516.6 1278.4 2510.1C1281.3 2503.6 1284.1 2497.7 1286.9 2492C1289.7 2486.3 1292.5 2480.8 1295.4 2475.7C1298.3 2470.5 1301.3 2465.6 1304.4 2461.1C1307.5 2456.6 1310.7 2452.6 1314.1 2448.8C1317.4 2445 1320.8 2441.7 1324.6 2438.3C1328.3 2434.9 1331.9 2432 1336.5 2428.6C1341.1 2425.2 1346 2421.7 1352.2 2418C1358.3 2414.3 1365.8 2409.9 1373.4 2406.5C1381 2403.2 1389.5 2400.1 1397.7 2397.7C1405.9 2395.3 1414.2 2393.8 1422.4 2392.1C1430.6 2390.4 1438.5 2389.1 1447.1 2387.6C1455.7 2386.1 1464.3 2384.4 1473.9 2382.9C1483.5 2381.3 1494.2 2379.7 1504.8 2378.3C1515.4 2377 1526.4 2375.8 1537.6 2374.7C1548.8 2373.5 1560 2372.6 1572.2 2371.4C1584.5 2370.1 1597.8 2368.8 1611.2 2367.3C1624.6 2365.9 1638.7 2364.1 1652.4 2362.6C1666.1 2361 1679.9 2359.6 1693.6 2358.1C1707.3 2356.6 1721.1 2355.3 1734.8 2353.7C1748.6 2352.2 1762.3 2350.5 1776.1 2348.8C1789.9 2347.2 1803.8 2345.4 1817.7 2343.8C1831.6 2342.2 1845.7 2340.7 1859.6 2339.2C1873.5 2337.6 1887.4 2336.1 1901.2 2334.4C1915 2332.6 1928.7 2330.7 1942.4 2328.7C1956.1 2326.7 1970.2 2324.4 1983.6 2322.2C1997 2320.1 2010.6 2317.7 2022.8 2315.6C2034.9 2313.4 2046 2311.4 2056.8 2309.4C2067.5 2307.5 2077.1 2305.7 2087.2 2303.8C2097.3 2301.8 2107.4 2299.7 2117.6 2297.6C2127.8 2295.4 2143.3 2291.8 2148.5 2290.6" fill="none" stroke="#0000ff" stroke-width="5.2" stroke-linejoin="round" stroke-linecap="butt"/>
<path d="M311.1 3156.9C313.3 3155.6 319.8 3151.6 324.5 3149.2C329.2 3146.8 334.4 3144.4 339.5 3142.3C344.6 3140.2 350 3138.3 355.3 3136.4C360.6 3134.5 365.8 3132.7 371.1 3130.8C376.4 3128.9 381.6 3127.1 386.9 3125.1C392.2 3123.1 397.4 3121.1 402.7 3119C408 3116.9 413.2 3114.8 418.5 3112.7C423.8 3110.6 429 3108.5 434.3 3106.6C439.6 3104.6 444.8 3102.8 450.1 3101C455.4 3099.2 460.6 3097.6 465.9 3095.9C471.2 3094.2 476.4 3092.5 481.7 3090.8C487 3089 492 3087.4 497.5 3085.4C503 3083.5 508.9 3081.2 515 3079C521.1 3076.8 528 3074.3 534.1 3072.2C540.2 3070.1 546.1 3068.2 551.6 3066.4C557.1 3064.6 562.1 3063 567.4 3061.3C572.7 3059.6 577.9 3057.9 583.2 3056.2C588.5 3054.4 593.7 3052.6 599 3050.8C604.3 3049 609.5 3047.1 614.8 3045.3C620.1 3043.5 625.3 3041.6 630.6 3039.8C635.9 3037.9 641.1 3036 646.4 3034.2C651.7 3032.4 656.9 3030.7 662.2 3028.9C667.5 3027.1 672.7 3025.3 678 3023.4C683.3 3021.5 688.5 3019.3 693.8 3017.5C699.1 3015.6 704.3 3013.9 709.6 3012.3C714.9 3010.7 719.9 3009.6 725.4 3007.8C730.9 3006 736.8 3003.8 742.9 3001.4C749 2999.1 755.9 2995.9 762 2993.4C768.1 2991 774 2988.8 779.5 2986.7C785 2984.6 790 2982.9 795.3 2980.9C800.6 2979 805.8 2976.9 811.1 2975C816.4 2973.1 821.6 2971.2 826.9 2969.3C832.2 2967.4 837.4 2965.6 842.7 2963.7C848 2961.8 853.2 2959.8 858.5 2957.8C863.8 2955.8 869 2953.7 874.3 2951.7C879.6 2949.7 884.8 2948 890.1 2946C895.4 2944 900.6 2942 905.9 2939.8C911.2 2937.7 916.4 2935.3 921.7 2933.1C927 2930.9 932.2 2928.6 937.5 2926.4C942.8 2924.2 947.9 2922.2 953.5 2919.7C959.2 2917.1 965 2914.5 971.3 2911.4C977.6 2908.2 984.7 2904.3 991.4 2900.7C998 2897.2 1004.8 2893.5 1011.1 2890.1C1017.4 2886.6 1023.3 2883.5 1029.2 2879.9C1035.2 2876.4 1040.9 2872.6 1046.8 2868.8C1052.6 2865 1058.8 2860.8 1064.3 2857.2C1069.8 2853.6 1075.2 2850.5 1080 2847.2C1084.9 2844 1088.8 2841.8 1093.5 2837.9C1098.1 2834 1103 2829.2 1108.1 2823.9C1113.2 2818.6 1119.1 2812.1 1124.1 2806.4C1129.2 2800.6 1134.1 2794.9 1138.4 2789.4C1142.8 2783.9 1146.5 2778.7 1150.1 2773.4C1153.7 2768 1156.9 2762.8 1160.1 2757.3C1163.2 2751.9 1166.3 2746.2 1169.1 2740.7C1172 2735.2 1174.8 2729.6 1177.3 2724.1C1179.8 2718.5 1182.1 2713 1184.3 2707.4C1186.5 2701.8 1188.4 2696.1 1190.4 2690.5C1192.4 2684.9 1194.1 2679.8 1196.2 2673.9C1198.3 2668 1200.4 2662.3 1202.8 2655.2C1205.3 2648 1208.1 2639.4 1210.8 2630.9C1213.6 2622.4 1216.4 2612.7 1219.2 2604.1C1222 2595.5 1224.7 2587.3 1227.4 2579.3C1230.1 2571.2 1232.8 2563.5 1235.5 2555.9C1238.2 2548.4 1241 2540.8 1243.7 2534.1C1246.4 2527.3 1249.1 2521.5 1251.9 2515.7C1254.6 2509.9 1257.4 2504.7 1260.3 2499.3C1263.2 2493.9 1266.4 2488.3 1269.4 2483.3C1272.4 2478.2 1275.4 2473.4 1278.4 2469C1281.4 2464.5 1284.3 2460.6 1287.5 2456.7C1290.6 2452.8 1294 2449.1 1297.4 2445.6C1300.8 2442.1 1304.4 2438.9 1307.9 2436C1311.5 2433.1 1315.1 2430.3 1318.7 2428.1C1322.3 2425.8 1325.1 2424 1329.7 2422.2C1334.2 2420.5 1338.6 2419.3 1345.8 2417.8C1353 2416.2 1362.9 2414.5 1373 2413C1383 2411.4 1394.9 2409.9 1405.9 2408.4C1416.9 2406.9 1427.9 2405.5 1438.9 2404.1C1449.9 2402.6 1460.9 2401.1 1471.9 2399.7C1482.9 2398.4 1493.9 2397.1 1504.8 2395.9C1515.8 2394.7 1526.4 2393.6 1537.6 2392.4C1548.8 2391.3 1560 2390.2 1572.2 2389C1584.5 2387.7 1597.8 2386.4 1611.2 2384.9C1624.6 2383.5 1638.7 2381.8 1652.4 2380.4C1666.1 2379.1 1679.9 2377.8 1693.6 2376.6C1707.3 2375.4 1721.1 2374.3 1734.8 2373.1C1748.6 2372 1762.3 2371.1 1776.1 2369.7C1789.9 2368.2 1803.8 2366.7 1817.7 2364.7C1831.6 2362.7 1845.7 2360 1859.6 2357.7C1873.5 2355.4 1887.4 2353.1 1901.2 2351.1C1915 2349.1 1928.7 2347.5 1942.4 2345.7C1956.1 2343.9 1970.2 2342.2 1983.6 2340.3C1997 2338.5 2010.6 2336.5 2022.8 2334.7C2034.9 2332.9 2046 2331.4 2056.8 2329.5C2067.5 2327.7 2077.1 2325.9 2087.2 2323.6C2097.3 2321.2 2107.4 2318.3 2117.6 2315.6C2127.8 2312.8 2143.3 2308.5 2148.5 2307.1" fill="none" stroke="#00e000" stroke-width="5.2" stroke-linejoin="round" stroke-linecap="butt"/>
<path d="M311.1 3168C313.3 3167 319.8 3164 324.5 3161.8C329.2 3159.6 334.4 3157.1 339.5 3154.7C344.6 3152.3 350 3149.8 355.3 3147.4C360.6 3145 365.8 3142.7 371.1 3140.5C376.4 3138.3 381.6 3136.1 386.9 3134C392.2 3131.9 397.4 3129.9 402.7 3127.9C408 3125.9 413.2 3123.9 418.5 3121.9C423.8 3119.9 429 3117.8 434.3 3115.8C439.6 3113.8 444.8 3111.7 450.1 3109.7C455.4 3107.7 460.6 3105.9 465.9 3104C471.2 3102.1 476.4 3100.2 481.7 3098.3C487 3096.4 492 3094.4 497.5 3092.5C503 3090.6 508.9 3088.8 515 3086.9C521.1 3085 528 3083.1 534.1 3081.1C540.2 3079.2 546.1 3077.2 551.6 3075.3C557.1 3073.4 562.1 3071.6 567.4 3069.6C572.7 3067.6 577.9 3065.6 583.2 3063.5C588.5 3061.4 593.7 3059.3 599 3057.2C604.3 3055 609.5 3052.8 614.8 3050.6C620.1 3048.4 625.3 3046.1 630.6 3043.9C635.9 3041.7 641.1 3039.5 646.4 3037.4C651.7 3035.3 656.9 3033.2 662.2 3031.1C667.5 3029 672.7 3026.9 678 3024.8C683.3 3022.7 688.5 3020.6 693.8 3018.5C699.1 3016.4 704.3 3014.3 709.6 3012.1C714.9 3009.9 720.2 3007.7 725.4 3005.3C730.6 3002.9 735.8 3000.3 740.9 2997.8C746 2995.4 751 2993 756.1 2990.6C761.2 2988.1 766.4 2985.8 771.6 2983.3C776.8 2980.8 782.1 2978.2 787.4 2975.6C792.7 2973 797.9 2970.2 803.2 2967.5C808.5 2964.8 813.7 2962 819 2959.2C824.3 2956.4 829.5 2953.6 834.8 2950.5C840.1 2947.4 845.3 2944.4 850.6 2940.8C855.9 2937.3 861.3 2933.5 866.4 2929.2C871.5 2925 876.5 2920.1 881.4 2915.5C886.3 2910.8 890.9 2906 895.7 2901.2C900.5 2896.5 905.5 2892 910.2 2887.1C914.8 2882.2 919.3 2877 923.6 2871.6C927.8 2866.2 931.9 2860.2 935.7 2854.6C939.4 2849.1 943 2843.5 946.1 2838.4C949.1 2833.3 951.6 2828.5 954 2823.8C956.5 2819 958.6 2814.5 960.7 2809.9C962.9 2805.3 964.9 2800.8 966.9 2796.2C968.9 2791.6 970.7 2787 972.6 2782.4C974.5 2777.8 976.3 2773.2 978.1 2768.7C979.9 2764.1 981.8 2759.6 983.6 2755.3C985.4 2750.9 987.3 2746.8 989.1 2742.6C990.9 2738.4 992.8 2734.3 994.6 2730.2C996.4 2726.2 998.2 2722.5 1000.1 2718.2C1002 2714 1003.9 2709.7 1006 2704.6C1008.1 2699.5 1010.5 2693.1 1012.8 2687.4C1015.1 2681.7 1017.4 2675.8 1019.8 2670.3C1022.2 2664.8 1024.4 2660.2 1027 2654.5C1029.6 2648.7 1032.5 2642.6 1035.6 2635.8C1038.7 2629.1 1042.3 2621.3 1045.7 2614C1049.1 2606.7 1052.8 2599.1 1056.3 2592.1C1059.8 2585.1 1063.3 2578.4 1066.8 2572.1C1070.3 2565.7 1073.8 2559.8 1077.4 2553.9C1081 2548 1084.6 2542.6 1088.4 2536.9C1092.2 2531.2 1096.1 2525.6 1100.1 2519.9C1104.1 2514.2 1108.2 2508.2 1112.6 2502.6C1116.9 2497 1121.5 2491.4 1126.2 2486.3C1130.9 2481.3 1135.9 2476.7 1140.9 2472.4C1145.9 2468 1151 2464 1156 2460.3C1161 2456.6 1166 2453 1171.1 2450.1C1176.1 2447.1 1181.1 2444.6 1186.3 2442.5C1191.5 2440.4 1196.7 2438.9 1202.2 2437.3C1207.7 2435.8 1213.5 2434.4 1219.2 2433.1C1225 2431.7 1230.9 2430.5 1236.7 2429.3C1242.5 2428.1 1248.4 2427 1254.2 2425.9C1260 2424.9 1265.9 2423.9 1271.7 2423.1C1277.5 2422.3 1283.4 2421.8 1289.2 2421.1C1295.1 2420.3 1300.9 2419.7 1306.8 2418.8C1312.6 2417.8 1317.9 2416.7 1324.3 2415.6C1330.7 2414.4 1337 2413.3 1345.2 2412.1C1353.4 2410.8 1363.3 2409.6 1373.4 2408.2C1383.5 2406.8 1395 2405.1 1405.9 2403.7C1416.8 2402.2 1427.9 2400.7 1438.9 2399.3C1449.9 2397.9 1460.9 2396.5 1471.9 2395.2C1482.9 2393.9 1493.9 2392.5 1504.8 2391.3C1515.8 2390.1 1526.4 2389 1537.6 2387.9C1548.8 2386.8 1560 2385.8 1572.2 2384.6C1584.5 2383.4 1597.8 2382.1 1611.2 2380.8C1624.6 2379.5 1638.7 2378.1 1652.4 2376.7C1666.1 2375.3 1679.9 2373.9 1693.6 2372.5C1707.3 2371.1 1721.1 2369.8 1734.8 2368.4C1748.6 2367 1762.3 2365.7 1776.1 2364.3C1789.9 2363 1803.8 2361.6 1817.7 2360.3C1831.6 2359 1845.7 2357.8 1859.6 2356.4C1873.5 2355 1887.4 2353.6 1901.2 2352.2C1915 2350.7 1928.7 2349.1 1942.4 2347.6C1956.1 2346 1970.2 2344.5 1983.6 2342.9C1997 2341.3 2010.6 2339.6 2022.8 2338C2034.9 2336.4 2046 2334.6 2056.8 2333.1C2067.5 2331.5 2077.1 2330.1 2087.2 2328.7C2097.3 2327.3 2107.4 2326 2117.6 2324.6C2127.8 2323.2 2143.3 2321.2 2148.5 2320.5" fill="none" stroke="#ff0000" stroke-width="5.2" stroke-linejoin="round" stroke-linecap="butt"/>
<rect x="308" y="2055" width="5" height="1581.5" fill="#000"/>
<rect x="308" y="3621.2" width="1947.8" height="5" fill="#000"/>
<rect x="281" y="2055" width="30" height="5" fill="#000"/>
<rect x="281" y="2446.5" width="30" height="5" fill="#000"/>
<rect x="281" y="2838.1" width="30" height="5" fill="#000"/>
<rect x="281" y="3229.6" width="30" height="5" fill="#000"/>
<rect x="281" y="3621.2" width="30" height="5" fill="#000"/>
<rect x="295" y="2250.8" width="16" height="5" fill="#000"/>
<rect x="295" y="2642.3" width="16" height="5" fill="#000"/>
<rect x="295" y="3033.9" width="16" height="5" fill="#000"/>
<rect x="295" y="3425.4" width="16" height="5" fill="#000"/>
<rect x="502.8" y="3623.7" width="5" height="29.3" fill="#000"/>
<rect x="891.2" y="3623.7" width="5" height="29.3" fill="#000"/>
<rect x="1279.6" y="3623.7" width="5" height="29.3" fill="#000"/>
<rect x="1667.9" y="3623.7" width="5" height="29.3" fill="#000"/>
<rect x="2056.3" y="3623.7" width="5" height="29.3" fill="#000"/>
<rect x="697" y="3623.7" width="5" height="13.3" fill="#000"/>
<rect x="1085.4" y="3623.7" width="5" height="13.3" fill="#000"/>
<rect x="1473.7" y="3623.7" width="5" height="13.3" fill="#000"/>
<rect x="1862.1" y="3623.7" width="5" height="13.3" fill="#000"/>
<rect x="2250.5" y="3623.7" width="5" height="13.3" fill="#000"/>
<text x="259" y="2077.1" text-anchor="end" class="tk">1.0</text>
<text x="259" y="2468.6" text-anchor="end" class="tk">0.8</text>
<text x="259" y="2860.2" text-anchor="end" class="tk">0.6</text>
<text x="259" y="3251.7" text-anchor="end" class="tk">0.4</text>
<text x="259" y="3643.3" text-anchor="end" class="tk">0.2</text>
<text x="505.3" y="3726" text-anchor="middle" class="tk">0</text>
<text x="893.7" y="3726" text-anchor="middle" class="tk">40</text>
<text x="1282.1" y="3726" text-anchor="middle" class="tk">80</text>
<text x="1670.4" y="3726" text-anchor="middle" class="tk">120</text>
<text x="2058.8" y="3726" text-anchor="middle" class="tk">160</text>
<text transform="translate(1283.5 3853) scale(0.974 1)" text-anchor="middle" class="tt">Temperature (°C)</text>
<text transform="translate(95.3 2863.6) rotate(-90) scale(0.963 1)" text-anchor="middle" class="tt">DSC (mW/mg)</text>
<rect x="678.4" y="2268.8" width="5.2" height="189.9" fill="#000"/>
<path d="M667 2456.7L695 2456.7L681 2513.6Z" fill="#000"/>
<text x="524.6" y="2351.8" class="tt" style="font-size:81.5px">exo</text>
<rect x="1712" y="2853" width="474" height="312.3" fill="url(#dots)"/>
<rect x="1712" y="2853" width="474" height="312.3" fill="#fff" fill-opacity="0"/>
<rect x="1711.2" y="2852" width="476.4" height="2.5" fill="#000"/>
<rect x="1711.2" y="2852" width="2.5" height="313.3" fill="#000"/>
<rect x="2185.2" y="2852" width="2.5" height="313.3" fill="#000"/>
<rect x="2187.6" y="2876.2" width="21.9" height="310.6" fill="#000"/>
<rect x="1735.7" y="3165.3" width="473.8" height="21.5" fill="#000"/>
<rect x="1721.6" y="2906.4" width="185.8" height="5.8" fill="#0000ff"/>
<text x="1928" y="2936" class="lg">RT</text>
<rect x="1721.6" y="3006.7" width="185.8" height="5.8" fill="#00e000"/>
<text x="1928" y="3036.2" class="lg">PC100</text>
<rect x="1721.6" y="3107.4" width="185.8" height="5.8" fill="#ff0000"/>
<text x="1928" y="3137.3" class="lg">PC140</text>
<text x="1155.4" y="1990" text-anchor="middle" class="cp">(a)</text>
<text x="1155.4" y="3981" text-anchor="middle" class="cp">(b)</text>
</svg></body></html>
